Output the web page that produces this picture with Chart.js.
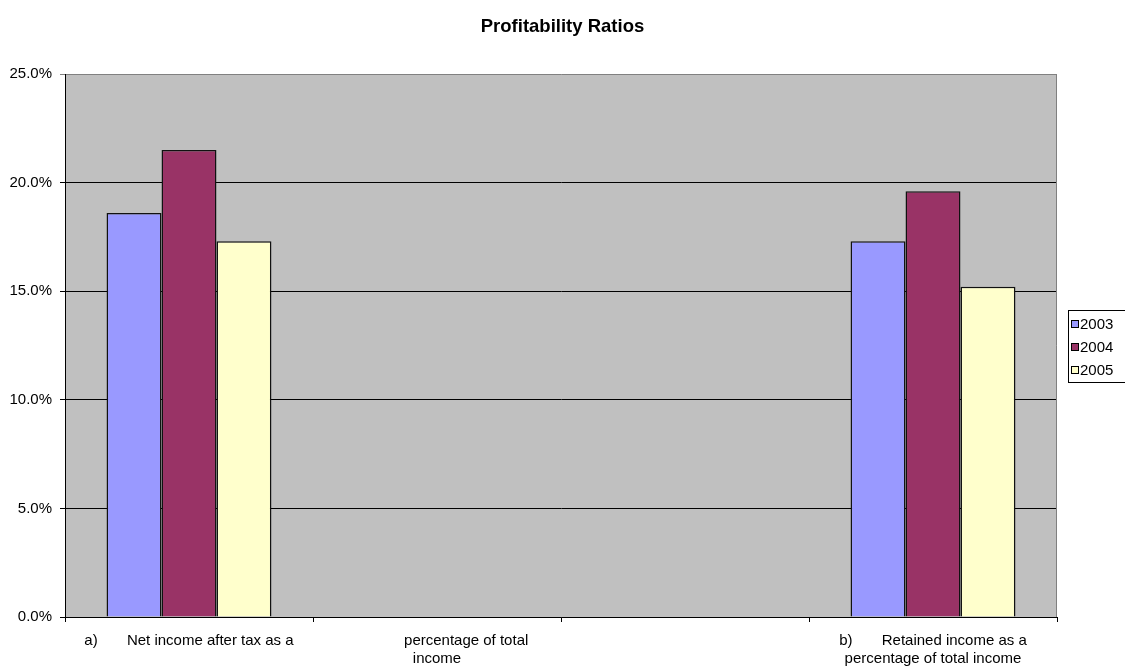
<!DOCTYPE html>
<html>
<head>
<meta charset="utf-8">
<title>Profitability Ratios</title>
<script src="https://cdn.jsdelivr.net/npm/chart.js@4.4.1/dist/chart.umd.min.js"></script>
<style>
  html, body { margin: 0; padding: 0; background: #fff; }
  #wrap { width: 1125px; height: 671px; }
</style>
</head>
<body>
<div id="wrap"><canvas id="chart"></canvas></div>
<script>
// Category labels (multi-line, spaces kept as in the worksheet)
const categories = [
  ['a)       Net income after tax as a'],
  ['              percentage of total', 'income'],
  [''],
  ['b)       Retained income as a', 'percentage of total income']
];
const years = ['2003', '2004', '2005'];
const values2003 = [18.6, null, null, 17.3];
const values2004 = [21.5, null, null, 19.6];
const values2005 = [17.3, null, null, 15.2];
const yearColors = ['#9999FF', '#993366', '#FFFFCC'];
const yTicks = [0, 5, 10, 15, 20, 25];

const FONT = '"Liberation Sans", Arial, sans-serif';

// grey plot background + grey right edge of the plot
const plotBackground = {
  id: 'plotBackground',
  beforeDraw(chart) {
    const { ctx, chartArea: a } = chart;
    ctx.save();
    ctx.fillStyle = '#C0C0C0';
    ctx.fillRect(a.left, a.top, a.right - a.left, a.bottom - a.top);
    ctx.restore();
  },
  beforeDatasetsDraw(chart) {
    const { ctx, chartArea: a } = chart;
    ctx.save();
    ctx.strokeStyle = '#808080';
    ctx.lineWidth = 1;
    ctx.beginPath();
    ctx.moveTo(Math.round(a.right) - 0.5, a.top);
    ctx.lineTo(Math.round(a.right) - 0.5, a.bottom);
    ctx.stroke();
    ctx.restore();
  }
};

// boxed legend on the right, built from the datasets.
// It reserves its own strip in the layout so the title stays centred on the page.
const boxLegend = {
  id: 'boxLegend',
  beforeInit(chart) {
    Chart.layouts.addBox(chart, {
      position: 'right',
      weight: 0,
      fullSize: false,
      options: {},
      isHorizontal() { return false; },
      update(maxWidth, maxHeight) { this.width = 68; this.height = maxHeight; },
      draw() {}
    });
  },
  afterDraw(chart) {
    const { ctx } = chart;
    const x = 1068, y = 310, w = 62, h = 72;
    ctx.save();
    ctx.fillStyle = '#fff';
    ctx.fillRect(x, y, w, h);
    ctx.strokeStyle = '#000';
    ctx.lineWidth = 1;
    ctx.strokeRect(x + 0.5, y + 0.5, w, h);
    ctx.font = '15px ' + FONT;
    ctx.textBaseline = 'middle';
    chart.data.datasets.forEach((ds, i) => {
      const cy = 324 + i * 23;
      ctx.fillStyle = ds.backgroundColor;
      ctx.fillRect(x + 3, cy - 4, 8, 8);
      ctx.strokeStyle = '#000';
      ctx.strokeRect(x + 3.5, cy - 3.5, 7, 7);
      ctx.fillStyle = '#000';
      ctx.fillText(ds.label, x + 12, cy + 1);
    });
    ctx.restore();
  }
};

const datasets = [values2003, values2004, values2005].map((vals, i) => ({
  label: years[i],
  data: vals,
  backgroundColor: yearColors[i],
  borderColor: '#111',
  borderWidth: 1.5,
  barPercentage: 1,
  categoryPercentage: 0.665
}));

Chart.defaults.font.family = FONT;
Chart.defaults.color = '#000';

new Chart(document.getElementById('chart'), {
  type: 'bar',
  data: { labels: categories, datasets },
  options: {
    responsive: true,
    maintainAspectRatio: false,
    animation: false,
    devicePixelRatio: 1,
    layout: { padding: 0 },
    plugins: {
      legend: { display: false },
      tooltip: { enabled: false },
      title: {
        display: true,
        text: 'Profitability Ratios',
        font: { size: 18.5, weight: 'bold' },
        color: '#000',
        padding: { top: 16, bottom: 35.8 }
      }
    },
    scales: {
      x: {
        offset: true,
        grid: {
          offset: true,
          drawOnChartArea: false,
          drawTicks: true,
          tickLength: 5,
          color: '#000'
        },
        border: { display: true, color: '#000', width: 1 },
        ticks: {
          font: { size: 15 },
          padding: 10,
          maxRotation: 0,
          autoSkip: false,
          color: '#000'
        },
        afterFit(scale) { scale.height = 54; }
      },
      y: {
        min: 0,
        max: 25,
        afterBuildTicks(scale) { scale.ticks = yTicks.map(v => ({ value: v })); },
        grid: {
          color: c => (c.tick && c.tick.value === 25 ? '#808080' : '#000'),
          tickLength: 5,
          lineWidth: 1
        },
        border: { display: true, color: '#000', width: 1 },
        ticks: {
          font: { size: 15 },
          padding: 8,
          color: '#000',
          callback: v => v.toFixed(1) + '%'
        },
        afterFit(scale) { scale.width = 65; }
      }
    }
  },
  plugins: [plotBackground, boxLegend]
});
</script>
</body>
</html>
